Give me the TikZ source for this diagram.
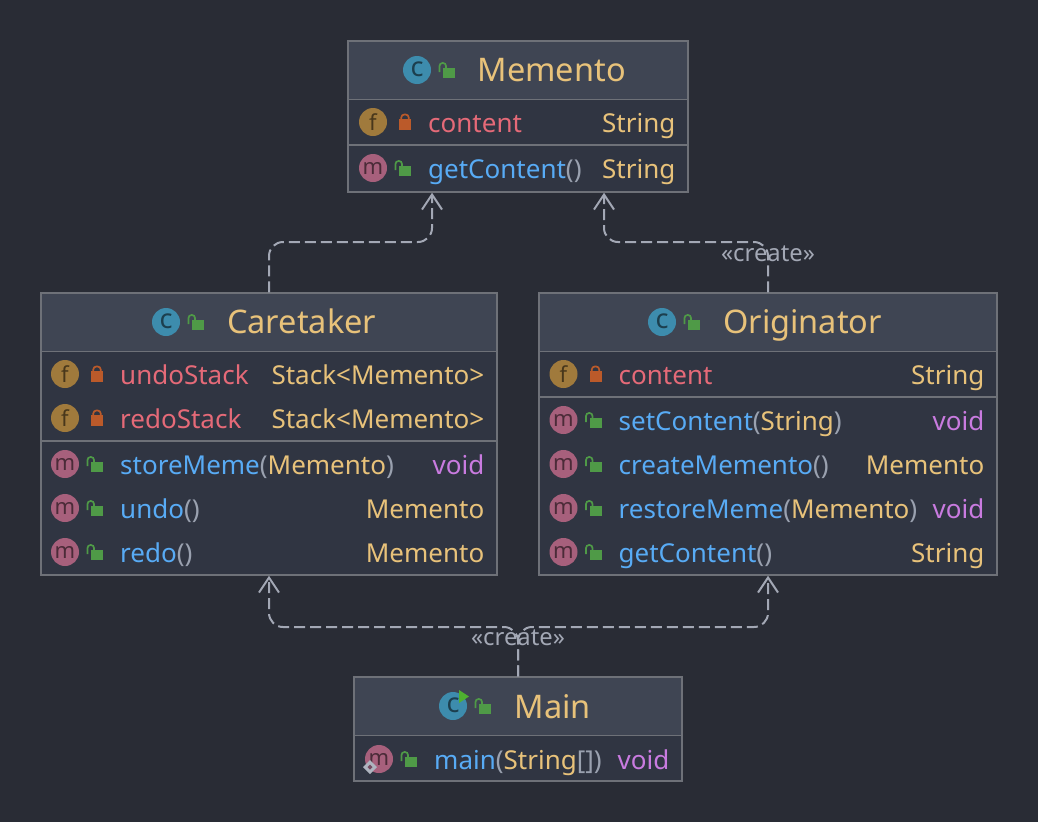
\documentclass[tikz,border=0pt]{standalone}
\usepackage{fontspec}
\setmainfont{Noto Sans}
\usetikzlibrary{arrows.meta}

\definecolor{pagebg}{HTML}{292C35}
\definecolor{bodybg}{HTML}{303542}
\definecolor{headbg}{HTML}{3F4553}
\definecolor{edgegray}{HTML}{6E7178}
\definecolor{linegray}{HTML}{A3A8B5}
\definecolor{typeyellow}{HTML}{E8C27A}
\definecolor{fieldred}{HTML}{E56A78}
\definecolor{methodblue}{HTML}{58ABF5}
\definecolor{voidpurple}{HTML}{C97BE0}
\definecolor{parengray}{HTML}{9AA1AF}
\definecolor{iconteal}{HTML}{3D8CAD}
\definecolor{iconbrown}{HTML}{A07A3C}
\definecolor{iconrose}{HTML}{A7607C}
\definecolor{lockgreen}{HTML}{4F9A47}
\definecolor{lockorange}{HTML}{BB5A2A}
\definecolor{rungreen}{HTML}{4FB030}

\tikzset{
  classbox/.style={draw=edgegray,line width=1.5pt,fill=bodybg,inner sep=0pt},
  headbox/.style={fill=headbg,inner sep=0pt},
  sep/.style={edgegray,line width=1.5pt},
  dep/.style={linegray,line width=2pt,dash pattern=on 11pt off 5pt,rounded corners=14pt,
    -{Straight Barb[length=15pt,width=20pt,line width=2pt]}},
  title/.style={anchor=base west,inner sep=0pt,text=typeyellow,font=\fontsize{32.5}{32.5}\selectfont},
  member/.style={anchor=base west,inner sep=0pt,font=\fontsize{26}{26}\selectfont},
  rtype/.style={anchor=base east,inner sep=0pt,font=\fontsize{26}{26}\selectfont},
  ball/.style={circle,inner sep=0pt,minimum size=28pt,font=\fontsize{22}{22}\selectfont},
  stereo/.style={inner sep=0pt,text=linegray,font=\fontsize{23.8}{23.8}\selectfont},
}

\newcommand{\fld}[1]{\textcolor{fieldred}{#1}}
\newcommand{\mth}[1]{\textcolor{methodblue}{#1}}
\newcommand{\typ}[1]{\textcolor{typeyellow}{#1}}
\newcommand{\pn}[1]{\textcolor{parengray}{#1}}
\newcommand{\vd}{\textcolor{voidpurple}{void}}

\newcommand{\openlock}[2]{
  \begin{scope}[shift={(#1,#2)}]
    \fill[lockgreen] (-6,-5) rectangle (6,5);
    \draw[lockgreen,line width=1.7pt,rounded corners=3pt] (-9.5,-1) -- (-9.5,-10) -- (-3,-10) -- (-3,-5);
  \end{scope}
}
\newcommand{\closedlock}[2]{
  \begin{scope}[shift={(#1,#2)}]
    \fill[lockorange] (-6,-5.5) rectangle (6,5.5);
    \draw[lockorange,line width=1.7pt,rounded corners=3pt] (-3.7,-5) -- (-3.7,-10) -- (3.7,-10) -- (3.7,-5);
  \end{scope}
}
% id, left edge, baseline, name, type, right edge
\newcommand{\fieldrow}[6]{
  \node[ball,fill=iconbrown,text=iconbrown!45!black] (#1Icon) at (#2+25,#3-10) {f};
  \closedlock{#2+57}{#3-7.5}
  \node[member] (#1Name) at (#2+80,#3) {\fld{#4}};
  \node[rtype] (#1Type) at (#6,#3) {#5};
}
\newcommand{\methodrow}[6]{
  \node[ball,fill=iconrose,text=iconrose!45!black] (#1Icon) at (#2+25,#3-10) {\raisebox{-1.5pt}{m}};
  \openlock{#2+57}{#3-7}
  \node[member] (#1Name) at (#2+80,#3) {#4};
  \node[rtype] (#1Type) at (#6,#3) {#5};
}
% id, icon x, icon y, title x, baseline, title
\newcommand{\classhead}[6]{
  \node[ball,fill=iconteal,text=iconteal!45!black,font=\fontsize{27}{27}\selectfont] (#1Icon) at (#2,#3) {\raisebox{1pt}{c}};
  \openlock{#2+32}{#3+3}
  \node[title] (#1Title) at (#4,#5) {#6};
}

\begin{document}
\begin{tikzpicture}[x=1pt,y=-1pt]
\fill[pagebg] (0,0) rectangle (1038,822);
\useasboundingbox (0,0) rectangle (1038,822);

% Memento
\node[classbox,minimum width=340pt,minimum height=151pt] (memento) at (518,116.5) {};
\node[headbox,minimum width=338pt,minimum height=57pt,anchor=north] (mementoHead) at (518,42) {};
\draw[sep] (mementoHead.south west) -- (mementoHead.south east);
\draw[sep] (memento.west |- 0,145) -- (memento.east |- 0,145);
\classhead{memento}{417}{70}{477.5}{81.5}{Memento}
\fieldrow{mementoContent}{348}{132}{content}{\typ{String}}{675.5}
\methodrow{mementoGet}{348}{178}{\mth{getContent}\pn{()}}{\typ{String}}{675.5}

% Caretaker
\node[classbox,minimum width=456pt,minimum height=282pt] (caretaker) at (269,434) {};
\node[headbox,minimum width=454pt,minimum height=57pt,anchor=north] (caretakerHead) at (269,294) {};
\draw[sep] (caretakerHead.south west) -- (caretakerHead.south east);
\draw[sep] (caretaker.west |- 0,441) -- (caretaker.east |- 0,441);
\classhead{caretaker}{166}{322}{227}{333.5}{Caretaker}
\fieldrow{undoStack}{40}{384}{undoStack}{\typ{Stack<Memento>}}{484.5}
\fieldrow{redoStack}{40}{428}{redoStack}{\typ{Stack<Memento>}}{484.5}
\methodrow{storeMeme}{40}{474}{\mth{storeMeme}\pn{(}\typ{Memento}\pn{)}}{\vd}{484.5}
\methodrow{undo}{40}{518}{\mth{undo}\pn{()}}{\typ{Memento}}{484.5}
\methodrow{redo}{40}{562}{\mth{redo}\pn{()}}{\typ{Memento}}{484.5}

% Originator
\node[classbox,minimum width=458pt,minimum height=282pt] (originator) at (768,434) {};
\node[headbox,minimum width=456pt,minimum height=57pt,anchor=north] (originatorHead) at (768,294) {};
\draw[sep] (originatorHead.south west) -- (originatorHead.south east);
\draw[sep] (originator.west |- 0,397) -- (originator.east |- 0,397);
\classhead{originator}{662}{322}{723}{333.5}{Originator}
\fieldrow{originatorContent}{538.5}{384}{content}{\typ{String}}{984.5}
\methodrow{setContent}{538.5}{430}{\mth{setContent}\pn{(}\typ{String}\pn{)}}{\vd}{984.5}
\methodrow{createMemento}{538.5}{474}{\mth{createMemento}\pn{()}}{\typ{Memento}}{984.5}
\methodrow{restoreMeme}{538.5}{518}{\mth{restoreMeme}\pn{(}\typ{Memento}\pn{)}}{\vd}{984.5}
\methodrow{getContent}{538.5}{562}{\mth{getContent}\pn{()}}{\typ{String}}{984.5}

% Main
\node[classbox,minimum width=328pt,minimum height=104pt] (main) at (518,729) {};
\node[headbox,minimum width=326pt,minimum height=57pt,anchor=north] (mainHead) at (518,678) {};
\draw[sep] (mainHead.south west) -- (mainHead.south east);
\classhead{main}{453}{706}{514.5}{718.5}{Main}
\fill[rungreen] (459,690) -- (469,696.5) -- (459,703) -- cycle;
\methodrow{mainMethod}{354}{769}{\mth{main}\pn{(}\typ{String}\pn{[])}}{\vd}{669.5}
\fill[parengray!80!white] (370,760) -- (377,767) -- (370,774) -- (363,767) -- cycle;
\fill[iconrose!60!pagebg] (370,764.5) -- (372.5,767) -- (370,769.5) -- (367.5,767) -- cycle;

% dependencies
\draw[dep] (caretaker.north) -- (269,242) -- (432,242) -- (432,0 |- memento.south);
\draw[dep] (originator.north) -- (768,242) -- (604,242) -- (604,0 |- memento.south);
\draw[dep] (main.north) -- (518,627) -- (269,627) -- (caretaker.south);
\draw[dep] (main.north) -- (518,627) -- (768,627) -- (originator.south);
\node[stereo] (createMemento) at (768,254) {«create»};
\node[stereo] (createMain) at (518,638) {«create»};
\end{tikzpicture}
\end{document}
